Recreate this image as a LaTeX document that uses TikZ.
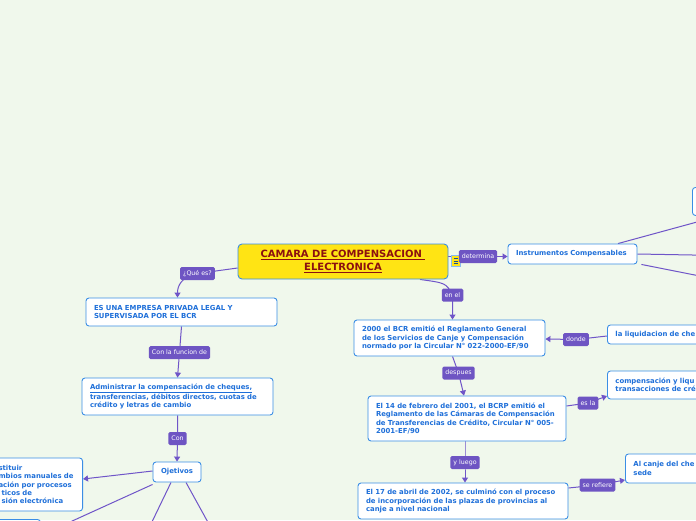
\documentclass[tikz,border=0pt]{standalone}
\usepackage{fontspec}
\setmainfont{DejaVu Sans}
\usetikzlibrary{arrows.meta,calc}
\definecolor{bgc}{HTML}{F0F8EC}
\definecolor{bblue}{HTML}{3B8EE5}
\definecolor{tblue}{HTML}{1E6FD9}
\definecolor{lab}{HTML}{6E55C3}
\definecolor{conncol}{HTML}{6F55C8}
\definecolor{cyell}{HTML}{FFE414}
\definecolor{cred}{HTML}{8B1010}
\pgfdeclarelayer{back}
\pgfdeclarelayer{bg}
\pgfsetlayers{back,bg,main}
\begin{document}
\begin{tikzpicture}[x=1pt,y=-1pt,
  box/.style={draw=bblue, line width=0.9pt, fill=white, rounded corners=3pt, text=tblue,
    font=\fontsize{6.9}{8.4}\selectfont\bfseries, align=left, inner xsep=8pt, inner ysep=0pt},
  lbl/.style={fill=lab, text=white, rounded corners=1.5pt, font=\fontsize{6.3}{7}\selectfont,
    inner xsep=3pt, inner ysep=0pt, minimum height=13pt},
  cn/.style={draw=conncol, line width=1pt},
  arr/.style={cn, -{Triangle[length=5pt,width=6pt]}}]
\useasboundingbox (0,0) rectangle (696,520);
\begin{pgfonlayer}{back}
\fill[bgc] (0,0) rectangle (696,520);
\end{pgfonlayer}

% central
\node[box, fill=cyell, draw=bblue, rounded corners=4pt, minimum width=210pt, minimum height=35pt,
  align=center, text=cred, font=\fontsize{10}{13}\selectfont\bfseries, inner xsep=0pt] (central) at (343,261.5)
  {\underline{CAMARA DE COMPENSACION\ }\\\underline{ELECTRONICA}};
% note icon
\filldraw[fill=cyell, draw=bblue!60, line width=0.4pt] (451.5,255.5) rectangle (460,266);
\foreach \yy in {258.5,261,263.5} \draw[draw=tblue!70!black, line width=0.6pt] (453.5,\yy) -- (458,\yy);

% right side
\node[box, text width=113pt, minimum height=20pt] (instr) at (572.5,254) {Instrumentos Compensables};
\node[box, minimum width=70pt, minimum height=28pt, anchor=north west] (tr) at (692,187) {};
\node[box, text width=175pt, minimum height=36pt] (b2000) at (449.5,338)
  {2000 el BCR emitió el Reglamento General\\de los Servicios de Canje y Compensación\\normado por la Circular N° 022-2000-EF/90};
\node[box, text width=100pt, minimum height=19pt, anchor=west] (liq) at (607,334.5) {la liquidacion de che};
\node[box, text width=100pt, minimum height=28pt, anchor=west] (comp) at (607,385)
  {compensación y liqu\\transacciones de cré};
\node[box, text width=182pt, minimum height=45pt] (el14) at (467,418.5)
  {El 14 de febrero del 2001, el BCRP emitió el\\Reglamento de las Cámaras de Compensación\\de Transferencias de Crédito, Circular N° 005-\\2001-EF/90};
\node[box, text width=194pt, minimum height=36pt] (el17) at (463,501)
  {El 17 de abril de 2002, se culminó con el proceso\\de incorporación de las plazas de provincias al\\canje a nivel nacional};
\node[box, text width=100pt, minimum height=29pt, anchor=west] (canje) at (625,468.5)
  {Al canje del che\\sede};

% left side
\node[box, text width=175pt, minimum height=28pt] (esuna) at (181.5,312)
  {ES UNA EMPRESA PRIVADA LEGAL Y\\SUPERVISADA POR EL BCR};
\node[box, text width=175pt, minimum height=37pt] (admin) at (177.5,396.5)
  {\underline{Administrar la compensación de cheques,}\\transferencias, débitos directos, cuotas de\\crédito y letras de cambio};
\node[box, minimum width=48pt, minimum height=20pt, inner xsep=2pt, align=center] (obj) at (177,472) {Ojetivos};
\node[box, text width=80pt, inner xsep=4pt, minimum height=53pt, anchor=east] (leftbox) at (83,484.5)
  {stituir\\mbios manuales de\\ación por procesos\\\hspace*{3pt}ticos de\\\hspace*{3pt}sión electrónica};
\node[box, minimum width=80pt, minimum height=28pt, anchor=north west] (bl) at (-40,519) {};

% labels
\node[lbl] (det) at (478,256.5) {determina};
\node[lbl] (enel) at (452.5,295) {en el};
\node[lbl] (desp) at (458.5,373) {despues};
\node[lbl] (yluego) at (465,462.5) {y luego};
\node[lbl] (donde) at (576,339.5) {donde};
\node[lbl] (esla) at (588,403) {es la};
\node[lbl] (ser) at (597.5,485) {se refiere};
\node[lbl] (qe) at (197.5,273.5) {¿Qué es?};
\node[lbl] (confun) at (179.5,352.5) {Con la funcion de};
\node[lbl] (con) at (177.5,438.5) {Con};

\coordinate (o1) at (59,527);
\coordinate (o2) at (150,526);
\coordinate (o3) at (210,526);
\coordinate (i1) at (730,213);
\coordinate (i2) at (720,255.5);
\coordinate (i3) at (720,280);

\begin{pgfonlayer}{bg}
\draw[arr] (det.center -| central.east) -- (det.center -| instr.west);
\draw[arr] ([xshift=77pt]central.south) .. controls (446,283) .. (enel.center) -- (enel.center |- b2000.north);
\draw[arr] ([yshift=-6.5pt]central.west) -- (qe.center) .. controls (181,277) and (177.5,286) .. ($(esuna.north)+(-4,0)$);
\draw[arr] (esuna.south) -- (confun.center) -- (admin.north);
\draw[arr] (admin.south) -- (con.center) -- (obj.north);
\draw[arr] ([yshift=1pt]obj.west) -- ([yshift=5.5pt]leftbox.east);
\draw[cn] ([yshift=-2pt]obj.south west) -- (o1);
\draw[cn] ([xshift=-6pt]obj.south) -- (o2);
\draw[cn] ([xshift=9pt]obj.south) -- (o3);
\draw[cn] ([xshift=45.5pt]instr.north) -- (i1);
\draw[cn] (instr.east) -- (i2);
\draw[cn] ([xshift=4pt]instr.south east) -- (i3);
\draw[arr] ([xshift=3pt]b2000.south) -- (desp.center) -- ([xshift=-3pt]el14.north);
\draw[arr] ([xshift=-2pt]el14.south) -- (yluego.center) -- ([xshift=2pt]el17.north);
\draw[arr] ([yshift=-1.5pt]liq.west) -- (donde.center) -- ([yshift=-1pt]b2000.east);
\draw[arr] ([yshift=12.5pt]el14.east) -- (esla.center) -- ([yshift=-11pt]comp.west);
\draw[arr] ([yshift=13pt]el17.east) -- (ser.center) -- ([yshift=-11.5pt]canje.west);
\end{pgfonlayer}
\end{tikzpicture}
\end{document}
